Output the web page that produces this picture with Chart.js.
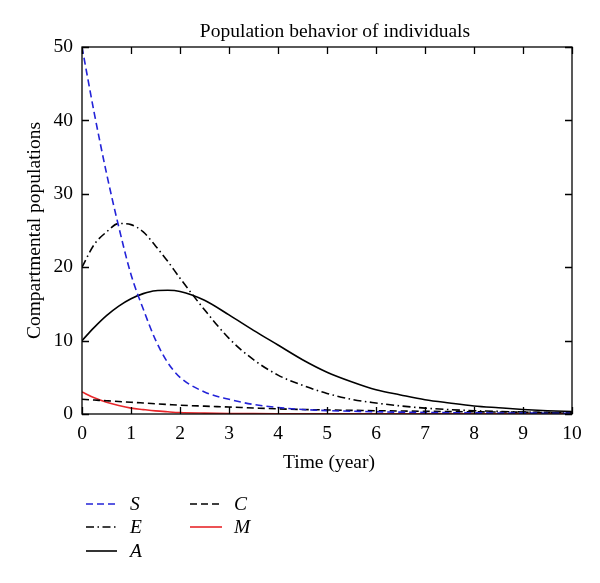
<!DOCTYPE html>
<html>
<head>
<meta charset="utf-8">
<script src="https://cdn.jsdelivr.net/npm/chart.js@4.4.1/dist/chart.umd.min.js"></script>
<style>
html,body{margin:0;padding:0;background:#fff;}
#wrap{width:600px;height:583px;position:relative;}
</style>
</head>
<body>
<div id="wrap"><canvas id="c" width="600" height="583"></canvas></div>
<script>
// ---- data ----
const titleText = "Population behavior of individuals";
const xTitle = "Time (year)";
const yTitle = "Compartmental populations";
const time = [0,0.25,0.5,0.75,1,1.25,1.5,1.75,2,2.5,3,3.5,4,4.5,5,5.5,6,6.5,7,7.5,8,8.5,9,9.5,10];
const S = [50,41,32.8,25.5,19.0,14.3,10.1,7.0,5.0,3.0,2.0,1.3,0.88,0.62,0.46,0.38,0.3,0.25,0.21,0.18,0.16,0.14,0.12,0.11,0.1];
const E = [20,23.1,24.8,25.95,25.8,24.8,22.9,20.8,18.5,14.2,10.3,7.4,5.3,3.9,2.8,2.0,1.5,1.1,0.8,0.6,0.45,0.35,0.27,0.2,0.15];
const A = [10,11.8,13.4,14.7,15.7,16.4,16.8,16.85,16.7,15.5,13.5,11.4,9.4,7.4,5.7,4.4,3.3,2.6,1.95,1.5,1.1,0.85,0.62,0.45,0.33];
const C = [2.0,1.9,1.8,1.7,1.6,1.5,1.4,1.3,1.2,1.07,0.95,0.82,0.7,0.62,0.55,0.5,0.45,0.41,0.37,0.33,0.3,0.27,0.25,0.22,0.2];
const M = [3.0,2.2,1.6,1.15,0.8,0.6,0.42,0.3,0.2,0.12,0.07,0.05,0.04,0.03,0.03,0.02,0.02,0.02,0.02,0.02,0.02,0.02,0.02,0.02,0.02];
const seriesNames = ["S","E","A","C","M"];
const xTicks = [0,1,2,3,4,5,6,7,8,9,10];
const yTicks = [0,10,20,30,40,50];

const serif = "'Liberation Serif','DejaVu Serif',serif";
const FS = 19.5;
const pts = arr => arr.map((v,i)=>({x:time[i], y:v}));

const styles = {
  S:{color:'#2323d8', dash:[7,4]},
  E:{color:'#000000', dash:[8,3.5,1.5,3.5]},
  A:{color:'#000000', dash:[]},
  C:{color:'#000000', dash:[7,4]},
  M:{color:'#e8262a', dash:[]}
};
const values = {S,E,A,C,M};

const datasets = seriesNames.map(n=>({
  label:n,
  data:pts(values[n]),
  borderColor:styles[n].color,
  borderDash:styles[n].dash,
  borderWidth:1.6,
  pointRadius:0,
  fill:false,
  cubicInterpolationMode:'monotone'
}));

const decor = {
  id:'decor',
  afterDatasetsDraw(chart){
    const ctx = chart.ctx;
    const a = chart.chartArea;
    const xs = chart.scales.x, ys = chart.scales.y;
    ctx.save();
    ctx.strokeStyle = '#000';
    ctx.lineWidth = 1.3;
    ctx.setLineDash([]);
    ctx.strokeRect(a.left, a.top, a.right-a.left, a.bottom-a.top);
    const tl = 7;
    ctx.beginPath();
    xTicks.forEach(v=>{
      const px = Math.round(xs.getPixelForValue(v))+0.5;
      ctx.moveTo(px,a.bottom); ctx.lineTo(px,a.bottom-tl);
      ctx.moveTo(px,a.top); ctx.lineTo(px,a.top+tl);
    });
    yTicks.forEach(v=>{
      const py = Math.round(ys.getPixelForValue(v))+0.5;
      ctx.moveTo(a.left,py); ctx.lineTo(a.left+tl,py);
      ctx.moveTo(a.right,py); ctx.lineTo(a.right-tl,py);
    });
    ctx.stroke();
    // title
    ctx.fillStyle = '#000';
    ctx.font = FS + 'px ' + serif;
    ctx.textAlign = 'center';
    ctx.textBaseline = 'alphabetic';
    ctx.fillText(titleText, 335, 37);
    // x title
    ctx.fillText(xTitle, 329, 468);
    // y title
    ctx.save();
    ctx.translate(40, (a.top+a.bottom)/2);
    ctx.rotate(-Math.PI/2);
    ctx.fillText(yTitle, 0, 0);
    ctx.restore();
    // legend (column-major, 3 rows)
    const rows = [504, 527, 551];
    const cols = [{x0:86,x1:117,tx:130},{x0:190,x1:222,tx:234}];
    ctx.font = 'italic ' + FS + 'px ' + serif;
    ctx.textAlign = 'left';
    ctx.textBaseline = 'middle';
    chart.data.datasets.forEach((ds,i)=>{
      const col = cols[Math.floor(i/3)], y = rows[i%3];
      ctx.beginPath();
      ctx.strokeStyle = ds.borderColor;
      ctx.lineWidth = ds.borderWidth;
      ctx.setLineDash(ds.borderDash);
      ctx.moveTo(col.x0, y); ctx.lineTo(col.x1, y);
      ctx.stroke();
      ctx.setLineDash([]);
      ctx.fillStyle = '#000';
      ctx.fillText(ds.label, col.tx, y+1);
    });
    ctx.restore();
  }
};

new Chart(document.getElementById('c'), {
  type:'line',
  data:{datasets},
  options:{
    responsive:false,
    animation:false,
    layout:{padding:{top:47,right:28,left:0,bottom:0}},
    plugins:{legend:{display:false},title:{display:false},tooltip:{enabled:false}},
    scales:{
      x:{
        type:'linear', min:0, max:10,
        afterBuildTicks: s => { s.ticks = xTicks.map(v=>({value:v})); },
        afterFit: s => { s.height = 169; },
        grid:{display:false, drawTicks:false},
        border:{display:false},
        ticks:{color:'#000', font:{family:serif, size:FS}, padding:8, maxRotation:0}
      },
      y:{
        type:'linear', min:0, max:50,
        afterBuildTicks: s => { s.ticks = yTicks.map(v=>({value:v})); },
        afterFit: s => { s.width = 82; },
        grid:{display:false, drawTicks:false},
        border:{display:false},
        ticks:{color:'#000', font:{family:serif, size:FS}, padding:9}
      }
    }
  },
  plugins:[decor]
});
</script>
</body>
</html>
